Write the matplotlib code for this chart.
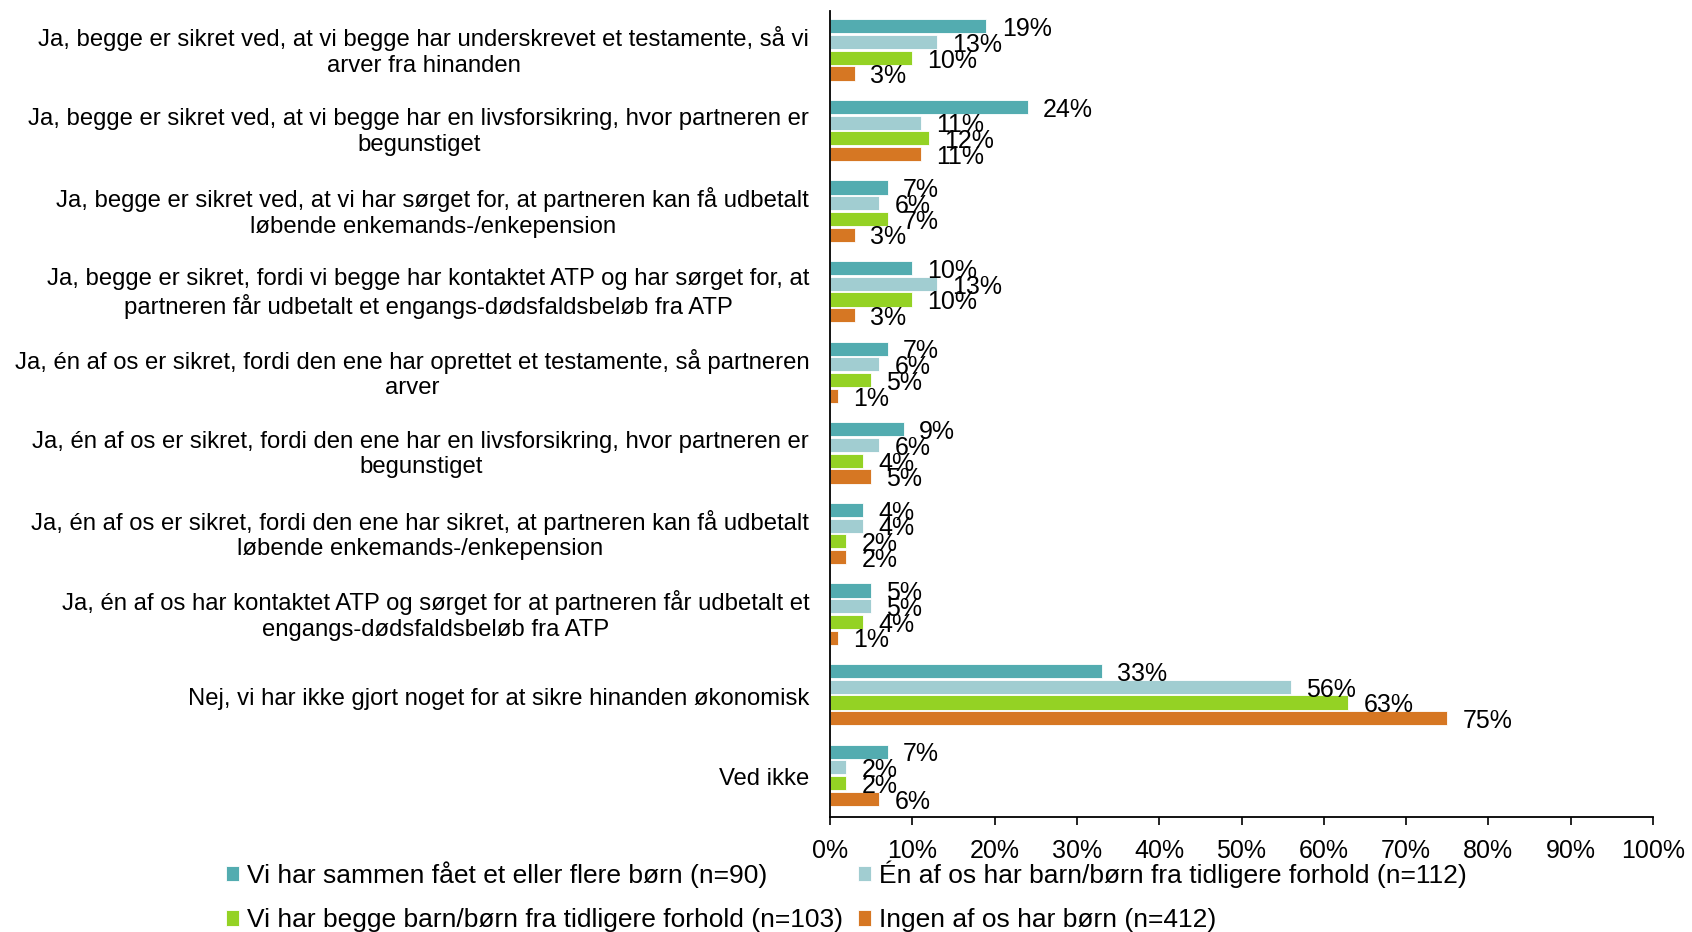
import matplotlib.pyplot as plt
import numpy as np

plt.rcParams['font.family'] = ['Liberation Sans', 'DejaVu Sans']

categories = [
    "Ja, begge er sikret ved, at vi begge har underskrevet et testamente, så vi\narver fra hinanden",
    "Ja, begge er sikret ved, at vi begge har en livsforsikring, hvor partneren er\nbegunstiget",
    "Ja, begge er sikret ved, at vi har sørget for, at partneren kan få udbetalt\nløbende enkemands-/enkepension",
    "Ja, begge er sikret, fordi vi begge har kontaktet ATP og har sørget for, at\npartneren får udbetalt et engangs-dødsfaldsbeløb fra ATP",
    "Ja, én af os er sikret, fordi den ene har oprettet et testamente, så partneren\narver",
    "Ja, én af os er sikret, fordi den ene har en livsforsikring, hvor partneren er\nbegunstiget",
    "Ja, én af os er sikret, fordi den ene har sikret, at partneren kan få udbetalt\nløbende enkemands-/enkepension",
    "Ja, én af os har kontaktet ATP og sørget for at partneren får udbetalt et\nengangs-dødsfaldsbeløb fra ATP",
    "Nej, vi har ikke gjort noget for at sikre hinanden økonomisk",
    "Ved ikke",
]

series_names = [
    "Vi har sammen fået et eller flere børn (n=90)",
    "Én af os har barn/børn fra tidligere forhold (n=112)",
    "Vi har begge barn/børn fra tidligere forhold (n=103)",
    "Ingen af os har børn (n=412)",
]

sammen = [19, 24, 7, 10, 7, 9, 4, 5, 33, 7]
en_af_os = [13, 11, 6, 13, 6, 6, 4, 5, 56, 2]
begge = [10, 12, 7, 10, 5, 4, 2, 4, 63, 2]
ingen = [3, 11, 3, 3, 1, 5, 2, 1, 75, 6]

colors = ['#53ACB0', '#A1CDD1', '#94D224', '#D67723']

fig = plt.figure(figsize=(16.92, 9.32), dpi=100)
ax = fig.add_axes([830 / 1692, 1 - 817 / 932, 823 / 1692, 806 / 932])

y = np.arange(len(categories))
offsets = [-0.31, -0.115, 0.08, 0.275]
h = 0.175
handles = []
for vals, off, col, name in zip([sammen, en_af_os, begge, ingen], offsets, colors, series_names):
    b = ax.barh(y + off, vals, height=h, color=col, edgecolor='white', linewidth=0.6, label=name)
    handles.append(b)
    for yi, v in zip(y + off, vals):
        ax.annotate(f"{v}%", (v, yi), xytext=(11, -2), textcoords='offset points',
                    va='center', ha='left', fontsize=18)

ax.set_ylim(len(categories) - 0.5, -0.5)
ax.set_xlim(0, 100)
ax.set_xticks(range(0, 101, 10))
ax.set_xticklabels([f"{t}%" for t in range(0, 101, 10)], fontsize=18)
ax.set_yticks(y)
ax.set_yticklabels(categories, fontsize=17.2, multialignment='center')
for lbl in ax.get_yticklabels():
    if "\n" in lbl.get_text():
        lbl.set_va('center')
ax.tick_params(axis='y', length=0, pad=15)
ax.tick_params(axis='x', direction='out', length=6, width=1.2, pad=10)
for s in ['top', 'right']:
    ax.spines[s].set_visible(False)
ax.spines['left'].set_linewidth(1.3)
ax.spines['bottom'].set_linewidth(1.3)

# legend fills row-wise in the reference
order = [0, 2, 1, 3]
fig.legend(handles=[handles[i] for i in order], loc='upper left', bbox_to_anchor=(226 / 1692, 1 - 860 / 932),
           ncol=2, frameon=False, fontsize=19, handlelength=0.5, handleheight=0.5, handletextpad=0.3,
           columnspacing=0.55, labelspacing=0.79, borderaxespad=0.0, borderpad=0.0)

fig.savefig('out.png', dpi=100)
